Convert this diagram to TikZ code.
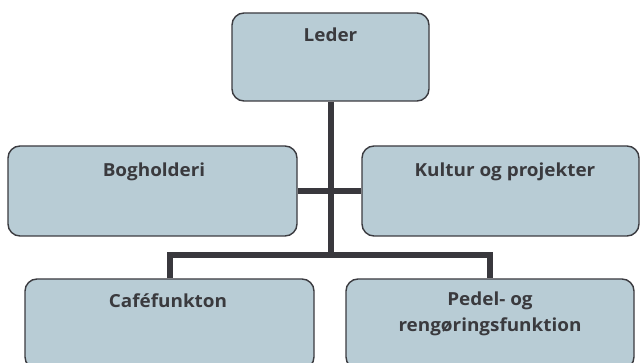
\documentclass[tikz,border=0pt]{standalone}
\usepackage{fontspec}
\setmainfont{Open Sans}[FakeStretch=1.05]
\definecolor{boxfill}{HTML}{B8CCD5}
\definecolor{boxline}{HTML}{3B3B40}
\definecolor{connline}{HTML}{39383D}
\definecolor{txtcol}{HTML}{3A3A3E}
\begin{document}
\begin{tikzpicture}[x=1pt,y=-1pt,
  orgbox/.style={draw=boxline, fill=boxfill, line width=1.4pt, rounded corners=12pt, inner sep=0pt},
  txt/.style={inner sep=0pt, anchor=base, text=txtcol, font=\fontsize{18}{26}\selectfont\bfseries, align=center},
  conn/.style={draw=connline, line width=6pt, line join=miter}]
\useasboundingbox (0,0) rectangle (640,363);
\fill[white] (0,0) rectangle (640,363);
\node[orgbox, minimum width=197pt, minimum height=88pt] (leder) at (330.5,57) {};
\node[orgbox, minimum width=289pt, minimum height=90pt] (bog) at (152.5,191) {};
\node[orgbox, minimum width=277pt, minimum height=90pt] (kul) at (500.5,191) {};
\node[orgbox, minimum width=289pt, minimum height=90pt] (cafe) at (169.5,324) {};
\node[orgbox, minimum width=288pt, minimum height=90pt] (pedel) at (490,324) {};
\coordinate (bar) at (330,255.5);
\draw[conn] (leder.south) -- (leder.south |- bar);
\draw[conn] (bog.east) -- (kul.west);
\draw[conn] (cafe.north) |- (bar) -| (pedel.north);
\node[txt] (tleder) at (330.5,42) {Leder};
\node[txt] (tbog) at (154,177) {Bogholderi};
\node[txt] (tkul) at (505,177) {Kultur og projekter};
\node[txt] (tcafe) at (168,308) {Caféfunkton};
\node[txt] (tpedel) at (490,332) {Pedel- og\\rengøringsfunktion};
\end{tikzpicture}
\end{document}
